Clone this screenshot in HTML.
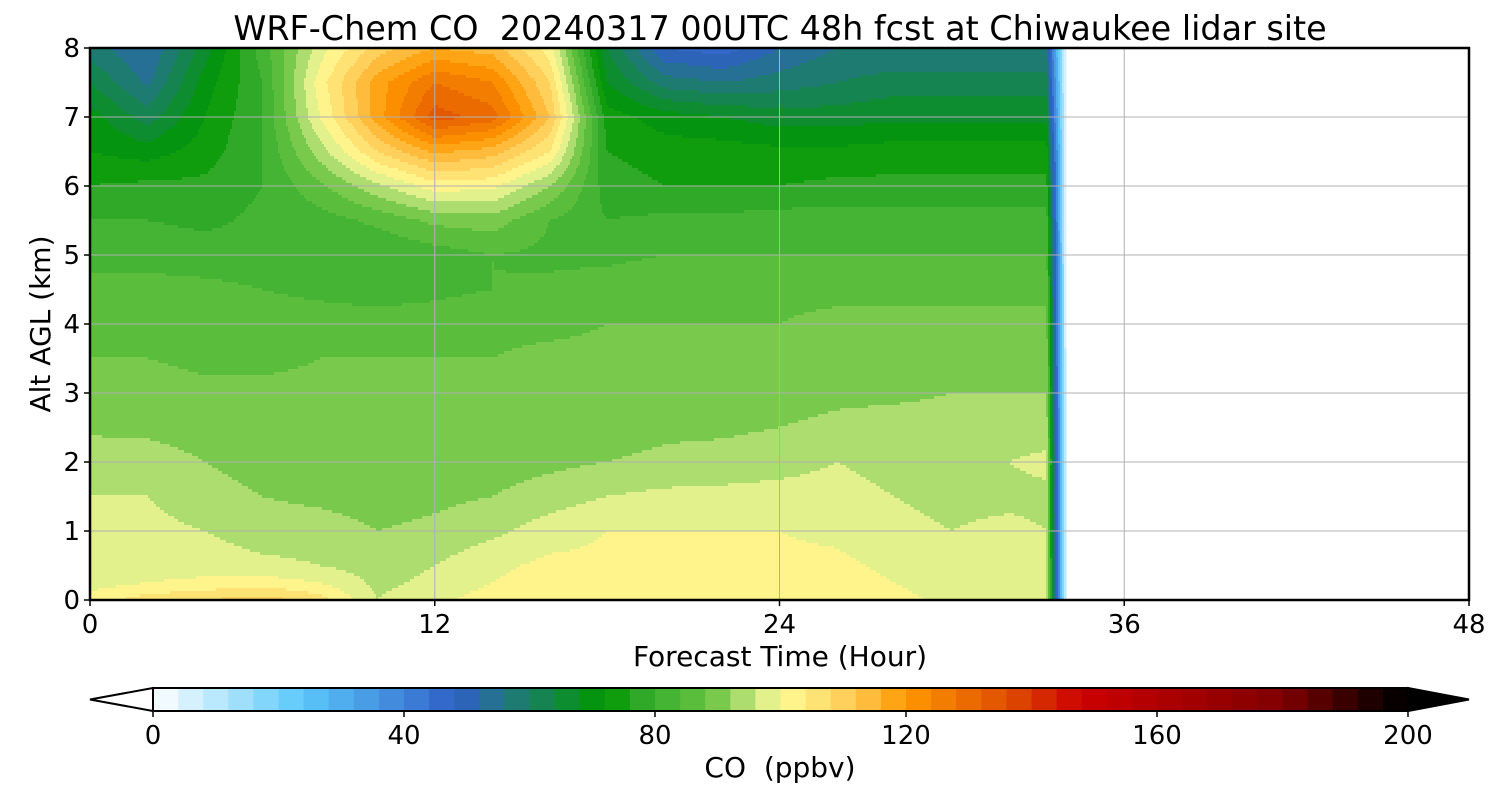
<!DOCTYPE html>
<html><head><meta charset="utf-8"><style>
body{margin:0;background:#fff;font-family:"Liberation Sans","DejaVu Sans",sans-serif}
svg text{font-family:"DejaVu Sans","Liberation Sans",sans-serif;white-space:pre}
</style></head><body>
<svg id="chart" width="1500" height="800" xmlns="http://www.w3.org/2000/svg">
<rect width="1500" height="800" fill="#fff"/>
<text x="780" y="40" font-size="33.4" text-anchor="middle">WRF-Chem CO&#160; 20240317 00UTC 48h fcst at Chiwaukee lidar site</text>
<g id="field"></g>
<g id="grid"></g>
<rect x="90" y="48" width="1379" height="552" fill="none" stroke="#000" stroke-width="2.5"/>
<g id="axes"></g>
<text x="780" y="666" font-size="28" text-anchor="middle">Forecast Time (Hour)</text>
<text transform="translate(50,324) rotate(-90)" font-size="28" text-anchor="middle">Alt AGL (km)</text>
<g id="cbar"></g>
<text x="780" y="777" font-size="28" text-anchor="middle">CO&#160; (ppbv)</text>
</svg>
<script>
const times=[0,2,4,6,8,10,12,14,16,18,20,22,24,26,28,30,32,33.3,34];
const alts=[0,0.25,0.5,1,1.5,2,2.5,3,3.5,4,4.5,5,5.5,6,6.5,7,7.5,8];
const co=[
[102,106,108,110,106,96,99,102,103,103,103,103,104,103,102,98,98,97,0],
[98,100,101,102,100,95,97,100,102,102,102,102,102,102,100,97,98,97,0],
[97,98,98,97,96,94,96,99,101,101,101,101,101,101,99,98,98,97,0],
[97,97,96,94,94,92,93,95,98,100,100,100,100,99,97,96,97,96,0],
[96,96,94,92,91,90,91,92,94,96,97,97,97,97,96,95,95,95,0],
[95,94,92,90,90,90,90,90,91,92,93,94,95,96,95,95,96,97,0],
[91,91,90,90,89,89,89,90,90,90,91,91,92,93,94,94,94,94,0],
[90,90,89,89,89,89,89,89,89,89,90,90,90,91,91,92,92,92,0],
[88,88,87,87,88,88,88,88,89,89,89,89,89,90,90,90,90,90,0],
[86,86,86,86,86,86,86,87,87,88,88,88,88,89,89,89,89,89,0],
[85,85,85,84,83,82,83,84,85,86,87,87,87,87,87,87,87,87,0],
[83,83,82,82,81,80,82,84,83,83,84,84,84,84,84,84,84,84,0],
[80,80,79,81,82,85,89,90,84,80,81,81,82,82,82,82,82,82,0],
[76,77,77,80,87,95,102,101,92,78,76,76,76,77,77,77,77,77,0],
[72,70,74,80,94,108,117,114,104,76,74,74,73,73,74,74,74,74,0],
[70,62,72,80,100,118,134,130,112,74,70,68,66,66,67,67,67,67,0],
[64,55,70,80,102,118,128,124,108,68,58,56,58,60,62,62,62,62,0],
[58,52,66,82,98,110,116,114,102,64,48,46,52,56,56,56,56,56,0]
];
const xTicks=[0,12,24,36,48];
const yTicks=[0,1,2,3,4,5,6,7,8];
const cbTicks=[0,40,80,120,160,200];
const stops=[[0,"#ffffff"],[24,"#5ac8fa"],[48,"#3060c8"],[60,"#1a8060"],[72,"#009800"],[78,"#30a828"],[84,"#50b838"],[89,"#6ac443"],[93,"#a0d868"],[97,"#d4ec84"],[100,"#fffc98"],[112,"#ffc850"],[120,"#ff9800"],[136,"#e05000"],[148,"#cc0000"],[160,"#b00000"],[180,"#800000"],[196,"#100000"],[200,"#000000"]];
const NS="http://www.w3.org/2000/svg";
const X0=90,X1=1469,Y0=600,Y1=48;
const xs=t=>X0+(X1-X0)*t/48, ys=a=>Y0-(Y0-Y1)*a/8;
function hex(c){return [1,3,5].map(i=>parseInt(c.substr(i,2),16));}
function cmap(v){v=Math.max(0,Math.min(200,v));for(let i=1;i<stops.length;i++){if(v<=stops[i][0]){const a=hex(stops[i-1][1]),b=hex(stops[i][1]);const f=(v-stops[i-1][0])/(stops[i][0]-stops[i-1][0]);return "rgb("+a.map((x,k)=>Math.round(x+(b[k]-x)*f)).join(",")+")";}}return "#000";}
function level(v){return Math.floor(Math.max(0,v)/4)*4+2;}
function idx(arr,v){for(let i=0;i<arr.length-1;i++)if(v<=arr[i+1])return i;return arr.length-2;}
function interp(t,a){const i=idx(times,t),j=idx(alts,a);const ft=(t-times[i])/(times[i+1]-times[i]),fa=(a-alts[j])/(alts[j+1]-alts[j]);
return co[j][i]*(1-ft)*(1-fa)+co[j][i+1]*ft*(1-fa)+co[j+1][i]*(1-ft)*fa+co[j+1][i+1]*ft*fa;}
function mk(tag,at,p){const e=document.createElementNS(NS,tag);for(const k in at)e.setAttribute(k,at[k]);p.appendChild(e);return e;}
const field=document.getElementById('field');
const xEnd=xs(times[times.length-1]);
const step=3;
for(let y=Y1;y<Y0;y+=step){const a=(Y0-(y+step/2))/(Y0-Y1)*8;let runStart=X0,runLev=null;
 for(let x=X0;x<=xEnd;x+=2){const t=(x+1-X0)/(X1-X0)*48;const lv=x>=xEnd?-1:level(interp(Math.min(t,times[times.length-1]),a)+0.01);
  if(lv!==runLev){if(runLev!==null&&runLev>=4){const r=mk('rect',{x:runStart,y:y,width:x-runStart+0.5,height:step+0.5,fill:cmap(runLev)},field);}runStart=x;runLev=lv;}}
}
const grid=document.getElementById('grid'),axes=document.getElementById('axes');
xTicks.forEach(t=>{const l=mk('line',{x1:xs(t),x2:xs(t),y1:Y1,y2:Y0,stroke:"#b0b0b0","stroke-width":1},grid);
 const k=mk('line',{x1:xs(t),x2:xs(t),y1:Y0,y2:Y0+6,stroke:"#000","stroke-width":1.5},axes);
 const tx=mk('text',{x:xs(t),y:633,"font-size":26,"text-anchor":"middle"},axes);tx.textContent=t;});
yTicks.forEach(a=>{const l=mk('line',{x1:X0,x2:X1,y1:ys(a),y2:ys(a),stroke:"#b0b0b0","stroke-width":1},grid);
 const k=mk('line',{x1:X0-6,x2:X0,y1:ys(a),y2:ys(a),stroke:"#000","stroke-width":1.5},axes);
 const tx=mk('text',{x:80,y:ys(a)+9,"font-size":26,"text-anchor":"end"},axes);tx.textContent=a;});
const cb=document.getElementById('cbar');const C0=153,C1=1408,CY=688,CH=23;const cx=v=>C0+(C1-C0)*v/200;
for(let v=0;v<200;v+=4){const r=mk('rect',{x:cx(v),y:CY,width:cx(v+4)-cx(v)+0.5,height:CH,fill:cmap(v+2)},cb);}
const lt=mk('polygon',{points:`${C0},${CY} 90,${CY+CH/2} ${C0},${CY+CH}`,fill:"#fff",stroke:"#000","stroke-width":2},cb);
const rt=mk('polygon',{points:`${C1},${CY} 1469,${CY+CH/2} ${C1},${CY+CH}`,fill:"#000",stroke:"#000","stroke-width":2},cb);
const fr=mk('rect',{x:C0,y:CY,width:C1-C0,height:CH,fill:"none",stroke:"#000","stroke-width":2},cb);
cbTicks.forEach(v=>{const k=mk('line',{x1:cx(v),x2:cx(v),y1:CY+CH,y2:CY+CH+6,stroke:"#000","stroke-width":1.5},cb);
 const tx=mk('text',{x:cx(v),y:744,"font-size":26,"text-anchor":"middle"},cb);tx.textContent=v;});
</script>
</body></html>
